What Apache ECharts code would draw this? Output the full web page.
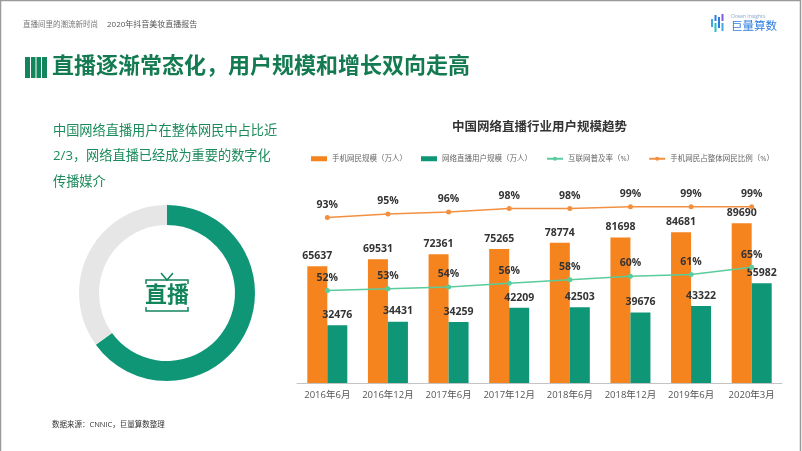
<!DOCTYPE html>
<html><head><meta charset="utf-8">
<script src="https://cdn.jsdelivr.net/npm/echarts@6/dist/echarts.min.js"></script>
<style>html,body{margin:0;padding:0;background:#fff}#c{width:802px;height:451px}</style>
</head><body><div id="c"></div>
<script>
const categories = ['2016年6月','2016年12月','2017年6月','2017年12月','2018年6月','2018年12月','2019年6月','2020年3月'];
const mobileUsers = [65637,69531,72361,75265,78774,81698,84681,89690];
const liveUsers = [32476,34431,34259,42209,42503,39676,43322,55982];
const penetration = [52,53,54,56,58,60,61,65];
const mobileShare = [93,95,96,98,98,99,99,99];
const seriesNames = ['手机网民规模（万人）','网络直播用户规模（万人）','互联网普及率（%）','手机网民占整体网民比例（%）'];
const donutValues = [65,35];

const ORANGE = '#F5841F', GREEN = '#0E9677', LGREEN = '#5ACB9C', LORANGE = '#F39040';
const FONT = "'Open Sans','Noto Sans CJK SC',sans-serif";
const chart = echarts.init(document.getElementById('c'), null, {renderer:'canvas'});
const lbl = {show:true, position:'top', color:'#333', fontSize:10.5, fontWeight:'bold', fontFamily:FONT};
const option = {
  animation:false,
  textStyle:{fontFamily:FONT},
  graphic:[
    {type:'rect', shape:{x:0.5,y:0.5,width:800,height:460}, style:{fill:'none', stroke:'#9a9a9a', lineWidth:1.5}, silent:true},
    {type:'text', left:23, top:21, style:{text:'直播间里的潮流新时尚', fontSize:7.5, fill:'#777', fontFamily:FONT}},
    {type:'text', left:107, top:21, style:{text:'2020年抖音美妆直播报告', fontSize:8, fill:'#555', fontFamily:FONT}},
    // logo
    {type:'rect', shape:{x:711,y:19,width:2,height:8}, style:{fill:'#3FA9E8'}},
    {type:'rect', shape:{x:714.5,y:15,width:2,height:6}, style:{fill:'#2E7BE0'}},
    {type:'rect', shape:{x:714.5,y:23,width:2,height:9}, style:{fill:'#1FC3C0'}},
    {type:'rect', shape:{x:718,y:17,width:2,height:11}, style:{fill:'#2E7BE0'}},
    {type:'rect', shape:{x:721.5,y:14,width:2,height:7}, style:{fill:'#7B5CE0'}},
    {type:'rect', shape:{x:721.5,y:23,width:2,height:8}, style:{fill:'#3FA9E8'}},
    {type:'text', left:731, top:14, style:{text:'Ocean Insights', fontSize:5, fill:'#8aa4c8', fontFamily:FONT}},
    {type:'text', left:731, top:21, style:{text:'巨量算数', fontSize:11.5, fill:'#2F7DE1', fontFamily:FONT}},
    // title icon
    {type:'rect', shape:{x:25,y:57,width:22,height:21}, style:{fill:'#13855C'}},
    {type:'rect', shape:{x:30,y:57,width:1,height:21}, style:{fill:'#fff'}},
    {type:'rect', shape:{x:35.5,y:57,width:1,height:21}, style:{fill:'#fff'}},
    {type:'rect', shape:{x:41,y:57,width:1,height:21}, style:{fill:'#fff'}},
    {type:'text', left:52, top:56, style:{text:'直播逐渐常态化，用户规模和增长双向走高', fontSize:22, fontWeight:'bold', fill:'#137A52', fontFamily:FONT}},
    {type:'text', left:53, top:118, style:{text:'中国网络直播用户在整体网民中占比近\n2/3，网络直播已经成为重要的数字化\n传播媒介', fontSize:13.2, lineHeight:25.5, fill:'#1B8A5C', fontFamily:FONT}},
    {type:'text', left:452, top:121, style:{text:'中国网络直播行业用户规模趋势', fontSize:12.5, fontWeight:'bold', fill:'#333', fontFamily:FONT}},
    {type:'text', left:52, top:421, style:{text:'数据来源：CNNIC，巨量算数整理', fontSize:7.5, fill:'#333', fontFamily:FONT}},
    // center icon
    {type:'text', x:167, y:296, style:{text:'直播', fontSize:22, fontWeight:'bold', fill:'#13855C', align:'center', verticalAlign:'middle', fontFamily:FONT}},
    {type:'polyline', shape:{points:[[146,284],[146,280],[188,280],[188,284]]}, style:{stroke:'#13855C', lineWidth:1.5, fill:null}},
    {type:'polyline', shape:{points:[[161,273],[167,280],[173,273]]}, style:{stroke:'#13855C', lineWidth:1.5, fill:null}},
    {type:'polyline', shape:{points:[[146,307],[146,311],[188,311],[188,307]]}, style:{stroke:'#13855C', lineWidth:1.5, fill:null}}
  ],
  legend:{
    left:306, top:150, width:490, itemGap:14, itemWidth:16, itemHeight:5,
    textStyle:{fontSize:7.5, color:'#666', fontFamily:FONT},
    data:[
      {name:seriesNames[0], icon:'rect'},
      {name:seriesNames[1], icon:'rect'},
      {name:seriesNames[2]},
      {name:seriesNames[3]}
    ]
  },
  grid:{left:297, right:20, top:205, bottom:68, containLabel:false},
  xAxis:{type:'category', data:categories,
    axisLine:{lineStyle:{color:'#c4c4c4'}}, axisTick:{show:false},
    axisLabel:{color:'#555', fontSize:9.5, margin:8, interval:0, hideOverlap:false, fontFamily:FONT}},
  yAxis:[
    {type:'value', min:0, max:100000, show:false, splitLine:{show:false}},
    {type:'value', min:0, max:100, show:false, splitLine:{show:false}}
  ],
  series:[
    {type:'pie', radius:[68,88], center:[167,293], startAngle:90, clockwise:true, label:{show:false}, labelLine:{show:false}, silent:true,
      data:[{value:donutValues[0], itemStyle:{color:GREEN}},{value:donutValues[1], itemStyle:{color:'#E6E6E6'}}]},
    {name:seriesNames[0], type:'bar', data:mobileUsers, barWidth:20, barGap:'0%', itemStyle:{color:ORANGE}, label:lbl},
    {name:seriesNames[1], type:'bar', data:liveUsers, barWidth:20, itemStyle:{color:GREEN}, label:lbl},
    {name:seriesNames[2], type:'line', yAxisIndex:1, data:penetration, symbol:'circle', symbolSize:5, z:5,
      itemStyle:{color:LGREEN}, lineStyle:{color:LGREEN, width:1.5},
      label:Object.assign({}, lbl, {formatter:'{c}%'})},
    {name:seriesNames[3], type:'line', yAxisIndex:1, data:mobileShare, symbol:'circle', symbolSize:5, z:5,
      itemStyle:{color:LORANGE}, lineStyle:{color:LORANGE, width:1.5},
      label:Object.assign({}, lbl, {formatter:'{c}%'})}
  ]
};
chart.setOption(option);
</script></body></html>
